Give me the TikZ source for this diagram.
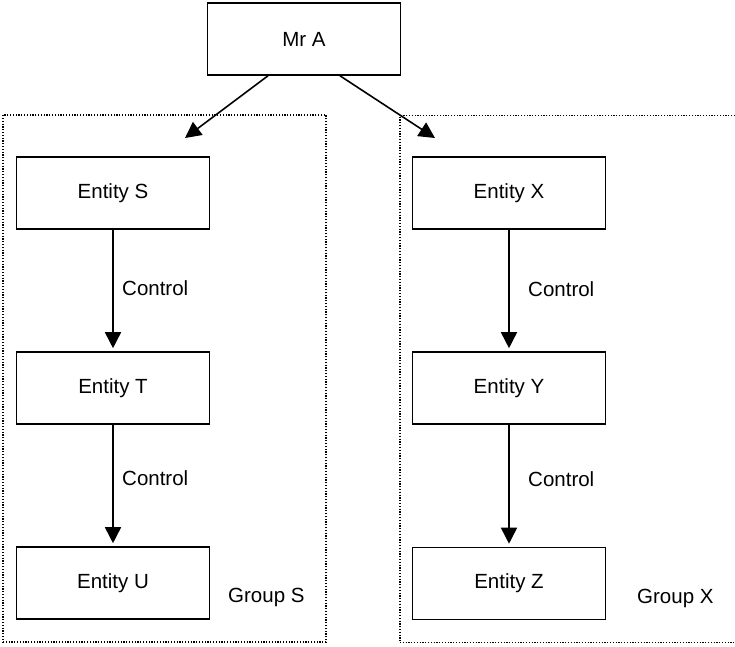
\documentclass[tikz,border=0pt]{standalone}
\usepackage{fontspec}
\setmainfont{Liberation Sans}
\usetikzlibrary{arrows.meta}
\begin{document}
\begin{tikzpicture}[x=1pt,y=-1pt,
  every node/.style={font=\fontsize{20.5}{24}\selectfont},
  entity/.style={draw,line width=1.6pt,minimum width=193pt,minimum height=72pt,inner sep=0pt},
  group/.style={draw,line width=1.2pt,dash pattern=on 1.2pt off 1.6pt,minimum width=#1,minimum height=527pt,inner sep=0pt},
  link/.style={line width=1.6pt,-{Triangle[length=16pt,width=16pt]}},
  lbl/.style={anchor=west,inner sep=0pt}]
\useasboundingbox (0,0) rectangle (735,646);

% dotted group frames
\node[group=323pt] (gs) at (164.5,378.5) {};
\node[group=338pt] (gx) at (569,379) {};
\node[lbl] (gslbl) at (228,597) {Group S};
\node[lbl] (gxlbl) at (637,598) {Group X};

% entities
\node[entity] (mra) at (304,39) {Mr A};
\node[entity] (es) at (113,193) {Entity S};
\node[entity] (et) at (113,388) {Entity T};
\node[entity] (eu) at (113,583) {Entity U};
\node[entity] (ex) at (509,193) {Entity X};
\node[entity] (ey) at (509,388) {Entity Y};
\node[entity] (ez) at (509,583.5) {Entity Z};

% arrow tips from Mr A end inside the group frames
\coordinate (tips) at (185,138);
\coordinate (tipx) at (435,138);
\draw[link] ([xshift=-36pt]mra.south) -- (tips);
\draw[link] ([xshift=36pt]mra.south) -- (tipx);

% control chains
\draw[link,shorten >=3pt] (es.south) -- (et.north);
\draw[link,shorten >=3pt] (et.south) -- (eu.north);
\draw[link,shorten >=3pt] (ex.south) -- (ey.north);
\draw[link,shorten >=3pt] (ey.south) -- (ez.north);

\node[lbl] (c1) at (122,288) {Control};
\node[lbl] (c2) at (122,478) {Control};
\node[lbl] (c3) at (528,289) {Control};
\node[lbl] (c4) at (528,479) {Control};
\end{tikzpicture}
\end{document}
